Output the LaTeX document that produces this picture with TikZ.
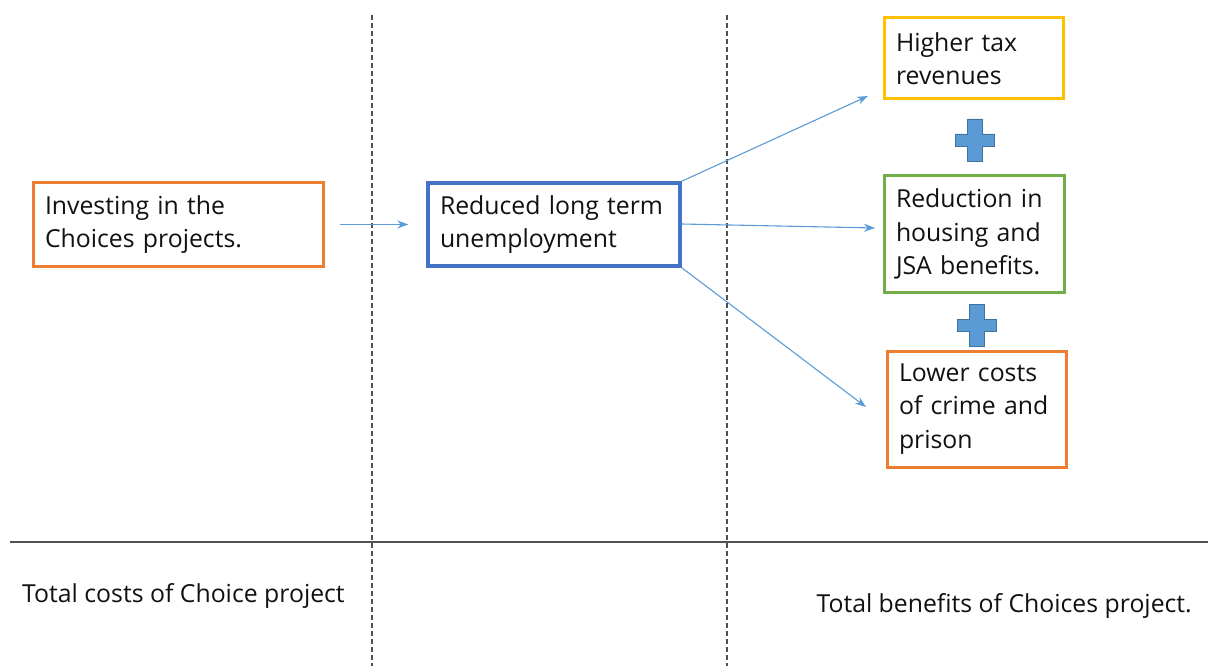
\documentclass[tikz,border=0pt]{standalone}
\usepackage{fontspec}
\setmainfont[Ligatures=NoCommon]{Open Sans}
\usetikzlibrary{arrows.meta}
\definecolor{oorange}{HTML}{ED7D31}
\definecolor{oblue}{HTML}{4472C4}
\definecolor{oyellow}{HTML}{FFC000}
\definecolor{ogreen}{HTML}{70AD47}
\definecolor{oarrow}{HTML}{5B9BD5}
\definecolor{oplusb}{HTML}{41719C}
\definecolor{odash}{HTML}{505050}
\definecolor{otext}{HTML}{111111}
\tikzset{
  box/.style={draw, line width=3pt, fill=white, align=left, inner xsep=12pt, inner ysep=0pt,
    font=\fontsize{24.8}{33.5}\selectfont, text=otext, anchor=center},
  conn/.style={draw=oarrow, line width=1.1pt, -{Stealth[length=11pt,width=8pt]}},
  divider/.style={draw=odash, line width=1.3pt, dash pattern=on 5pt off 3pt},
  plusshape/.style={fill=oarrow, draw=oplusb, line width=0.8pt},
  lbl/.style={font=\fontsize{24.8}{33.5}\selectfont, text=otext, inner sep=0pt}
}
\begin{document}
\begin{tikzpicture}[x=1pt,y=-1pt]
\useasboundingbox (0,0) rectangle (1208,666);
% dividers
\coordinate (d1t) at (372,15); \coordinate (d1b) at (372,666);
\coordinate (d2t) at (727,15); \coordinate (d2b) at (727,666);
\coordinate (hl) at (10,542); \coordinate (hr) at (1208,542);
\draw[divider] (d1t) -- (d1b);
\draw[divider] (d2t) -- (d2b);
\draw[draw=odash, line width=1.3pt] (hl) -- (hr);
% boxes
\node[box, draw=oorange, minimum width=290pt, minimum height=83pt, text width=266pt] (inv) at (178,224.5) {Investing in the\\Choices projects.};
\node[box, draw=oblue, line width=3.5pt, minimum width=252pt, minimum height=83pt, text width=228pt] (red) at (554,224.5) {Reduced long term\\unemployment};
\node[box, draw=oyellow, minimum width=179pt, minimum height=81pt, text width=155pt] (tax) at (973.5,58.5) {Higher tax\\revenues};
\node[box, draw=ogreen, minimum width=180pt, minimum height=116pt, text width=156pt] (hous) at (974,234) {Reduction in\\housing and\\JSA benefits.};
\node[box, draw=oorange, minimum width=179pt, minimum height=116pt, text width=155pt] (crime) at (976.5,409) {Lower costs\\of crime and\\prison};
% connectors
\coordinate (e1) at (868,96);
\coordinate (e2) at (875,228);
\coordinate (e3) at (866,407);
\draw[conn, shorten <=15pt, shorten >=18pt] (inv.east) -- (red.west);
\draw[conn] (red.north east) -- (e1);
\draw[conn] ([yshift=0.5pt]red.east) -- (e2);
\draw[conn] (red.south east) -- (e3);
% plus signs
\coordinate (p1) at (975,140);
\coordinate (p2) at (977,325);
\foreach \p in {p1,p2}{
  \draw[plusshape] ([shift={(-7.5,-21)}]\p) -- ++(15,0) -- ++(0,15) -- ++(12,0) -- ++(0,12) -- ++(-12,0) -- ++(0,15)
    -- ++(-15,0) -- ++(0,-15) -- ++(-12,0) -- ++(0,-12) -- ++(12,0) -- cycle;
}
% bottom labels
\node[lbl, anchor=west] (costs) at (22,596) {Total costs of Choice project};
\node[lbl, anchor=east] (bens) at (1192,606) {Total benefits of Choices project.};
\end{tikzpicture}
\end{document}
